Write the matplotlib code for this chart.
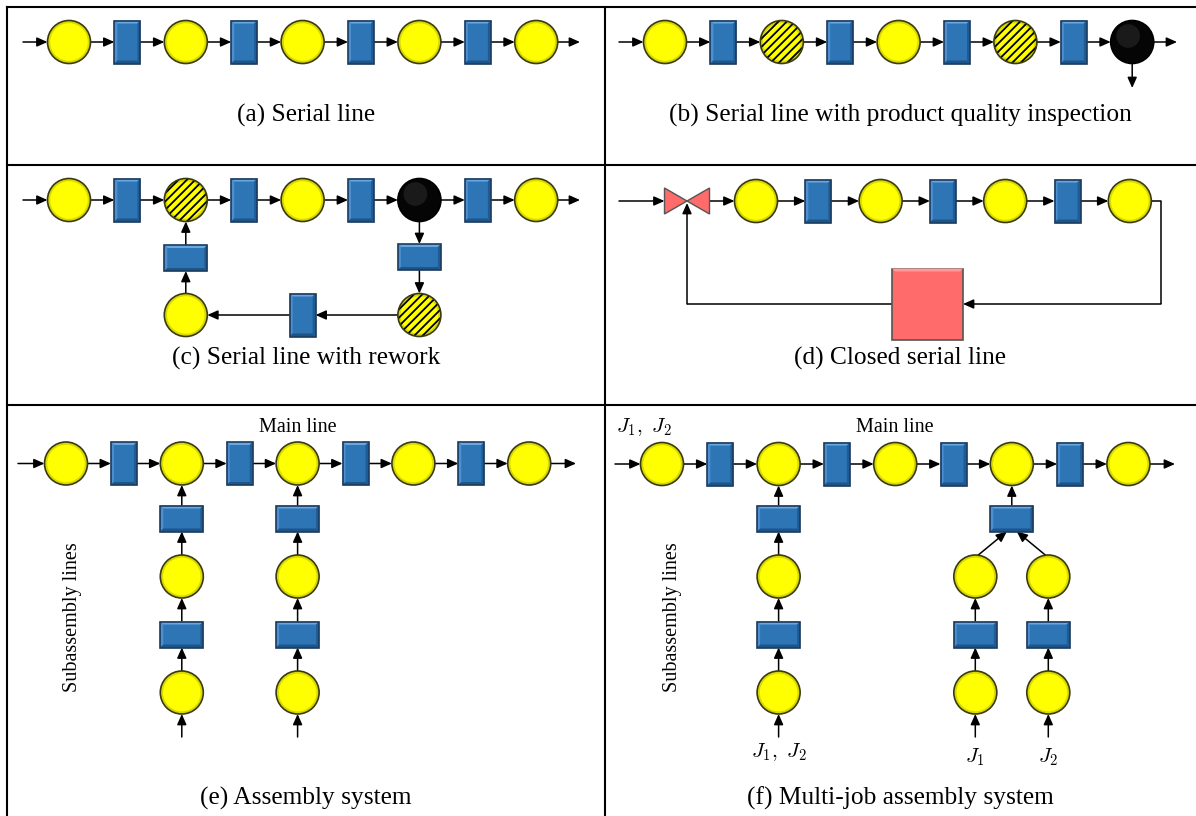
import matplotlib
matplotlib.use("Agg")
import matplotlib.pyplot as plt
from matplotlib.patches import Circle, Rectangle, Polygon

plt.rcParams["font.family"] = ["Liberation Serif", "DejaVu Serif"]
plt.rcParams["mathtext.fontset"] = "cm"
plt.rcParams["hatch.linewidth"] = 1.3

# ---- node sequences (M machine, Q quality machine, I inspection, B buffer, S splitter) ----
ROW_A = ["M", "B", "M", "B", "M", "B", "M", "B", "M"]
ROW_B = ["M", "B", "Q", "B", "M", "B", "Q", "B", "I"]
ROW_C = ["M", "B", "Q", "B", "M", "B", "I", "B", "M"]
ROW_D = ["S", "M", "B", "M", "B", "M", "B", "M"]
ROW_E = ["M", "B", "M", "B", "M", "B", "M", "B", "M"]
ROW_F = ["M", "B", "M", "B", "M", "B", "M", "B", "M"]

REWORK_C = ["B", "Q", "B", "M", "B"]          # from inspection back to station 3
SUB_LINE = ["B", "M", "B", "M"]              # one subassembly line, top to bottom
SUB_E = [2, 4]                               # main-line stations fed in (e)
SUB_F_SINGLE = 2                             # (f) single feeder
SUB_F_MERGE = 6                              # (f) merged feeder
MERGE_LINE = ["M", "B", "M"]
MERGE_LABELS = ["$J_1$", "$J_2$"]

CAPTIONS = ["(a) Serial line", "(b) Serial line with product quality inspection",
            "(c) Serial line with rework", "(d) Closed serial line",
            "(e) Assembly system", "(f) Multi-job assembly system"]

YEL = "#FFFF00"
YEL_EDGE = "#3a3a10"
BLUE = "#2E75B6"
BLUE_EDGE = "#1B3A5C"
RED = "#FF6B6B"
R = 21.5

fig = plt.figure(figsize=(11.96, 8.16), dpi=100)
ax = fig.add_axes([0, 0, 1, 1])
ax.set_xlim(0, 1196)
ax.set_ylim(816, 0)
ax.axis("off")


def arrow(p, q):
    ax.annotate("", xy=q, xytext=p,
                arrowprops=dict(arrowstyle="-|>,head_length=0.45,head_width=0.2", lw=1.1,
                                color="black", shrinkA=0, shrinkB=0, mutation_scale=14), zorder=2)


def line(xs, ys):
    ax.plot(xs, ys, color="black", lw=1.1, zorder=2, solid_capstyle="butt")


def machine(x, y, kind):
    if kind == "I":
        ax.add_patch(Circle((x, y), R, fc="#050505", ec="black", lw=1.2, zorder=3))
        ax.add_patch(Circle((x - 4, y - 6), R * 0.55, fc="#1a1a1a", ec="none", zorder=3))
        return
    ax.add_patch(Circle((x, y), R, fc=YEL, ec="none", zorder=3))
    ax.add_patch(Circle((x, y), R - 1.6, fc="none", ec="#d9d900", lw=1.6, zorder=3))
    if kind == "Q":
        ax.add_patch(Circle((x, y), R, fc="none", ec="black", lw=0, hatch="////", zorder=3))
    ax.add_patch(Circle((x, y), R, fc="none", ec=YEL_EDGE, lw=1.2, zorder=4))


def buffer(x, y, vertical=True):
    w, h = (26, 43) if vertical else (43, 26)
    l, t, rr, b = x - w / 2, y - h / 2, x + w / 2, y + h / 2
    ax.add_patch(Rectangle((l, t), w, h, fc=BLUE, ec="none", zorder=3))
    k = 3
    ax.add_patch(Polygon([(l, t), (rr, t), (rr - k, t + k), (l + k, t + k)], fc="#6aa8e0", ec="none", zorder=3))
    ax.add_patch(Polygon([(l, t), (l + k, t + k), (l + k, b - k), (l, b)], fc="#4d8fcf", ec="none", zorder=3))
    ax.add_patch(Polygon([(rr, t), (rr, b), (rr - k, b - k), (rr - k, t + k)], fc="#1f5c96", ec="none", zorder=3))
    ax.add_patch(Polygon([(l, b), (rr, b), (rr - k, b - k), (l + k, b - k)], fc="#1d5589", ec="none", zorder=3))
    ax.add_patch(Rectangle((l, t), w, h, fc="none", ec=BLUE_EDGE, lw=1.2, zorder=4))


def splitter(x, y):
    ax.add_patch(Polygon([(x - 22.5, y - 13), (x - 22.5, y + 13), (x, y)], fc=RED, ec="#555555", lw=1.0, zorder=3))
    ax.add_patch(Polygon([(x + 22.5, y - 13), (x + 22.5, y + 13), (x, y)], fc=RED, ec="#555555", lw=1.0, zorder=3))


def half_w(kind, vertical=True):
    if kind == "B":
        return 13 if vertical else 21.5
    if kind == "S":
        return 22.5
    return R


def half_h(kind, vertical=True):
    if kind == "B":
        return 21.5 if vertical else 13
    return R


def node(x, y, kind, vertical=True):
    if kind == "B":
        buffer(x, y, vertical)
    elif kind == "S":
        splitter(x, y)
    else:
        machine(x, y, kind)


def row(seq, xs, y, x_in, x_out):
    for x, k in zip(xs, seq):
        node(x, y, k)
    arrow((x_in, y), (xs[0] - half_w(seq[0]), y))
    for i in range(len(seq) - 1):
        arrow((xs[i] + half_w(seq[i]), y), (xs[i + 1] - half_w(seq[i + 1]), y))
    if x_out is not None:
        arrow((xs[-1] + half_w(seq[-1]), y), (x_out, y))


def column(seq, x, ys, top_y=None, bottom_in=None):
    # chain feeding upward; top_y is the bottom edge of the node it feeds
    prev = top_y
    for k, y in zip(seq, ys):
        node(x, y, k, vertical=False)
        if prev is not None:
            arrow((x, y - half_h(k, False)), (x, prev))
        prev = y + half_h(k, False)
    if bottom_in is not None:
        arrow((x, bottom_in), (x, prev))


def xs_of(seq, x0, pitch):
    return [x0 + i * pitch for i in range(len(seq))]


# ---- table grid ----
for xs, ys in [([7, 1196], [7, 7]), ([7, 1196], [165, 165]), ([7, 1196], [405, 405]),
               ([7, 7], [7, 816]), ([605, 605], [7, 816])]:
    ax.plot(xs, ys, color="black", lw=1.5, zorder=1)

# ---- (a) ----
xa = xs_of(ROW_A, 69, 58.4)
row(ROW_A, xa, 42, 23, 580)

# ---- (b) ----
xb = xs_of(ROW_B, 665, 58.4)
row(ROW_B, xb, 42, 619, 1177)
arrow((xb[-1], 42 + R), (xb[-1], 88))

# ---- (c) ----
yc = 200
xc = xs_of(ROW_C, 69, 58.4)
row(ROW_C, xc, yc, 23, 580)
xi = xc[ROW_C.index("I")]
xq = xc[ROW_C.index("Q")]
y_low = 315
# down from inspection
buffer(xi, 257, vertical=False)
arrow((xi, yc + R), (xi, 257 - 13))
machine(xi, y_low, REWORK_C[1])
arrow((xi, 257 + 13), (xi, y_low - R))
# back along the bottom
xm = (xi + xq) / 2
buffer(xm, y_low, vertical=True)
arrow((xi - R, y_low), (xm + 13, y_low))
machine(xq, y_low, REWORK_C[3])
arrow((xm - 13, y_low), (xq + R, y_low))
# up into station
buffer(xq, 258, vertical=False)
arrow((xq, y_low - R), (xq, 258 + 13))
arrow((xq, 258 - 13), (xq, yc + R))

# ---- (d) ----
yd = 201
xd = [687] + xs_of(ROW_D[1:], 756, 62.3)
row(ROW_D, xd, yd, 619, None)
sq_x, sq_y, sq = 927.5, 304, 71
ax.add_patch(Rectangle((sq_x - sq / 2, sq_y - sq / 2), sq, sq, fc=RED, ec="#555555", lw=1.2, zorder=3))
ax.add_patch(Polygon([(sq_x - sq / 2, sq_y - sq / 2), (sq_x + sq / 2, sq_y - sq / 2),
                      (sq_x + sq / 2 - 3, sq_y - sq / 2 + 3), (sq_x - sq / 2 + 3, sq_y - sq / 2 + 3)],
                     fc="#ff9a9a", ec="none", zorder=3))
line([xd[-1] + R, 1161, 1161], [yd, yd, sq_y])
arrow((1161, sq_y), (sq_x + sq / 2, sq_y))
line([sq_x - sq / 2, xd[0]], [sq_y, sq_y])
arrow((xd[0], sq_y), (xd[0], yd + 2))

# ---- (e) ----
ye = 463.5
xe = xs_of(ROW_E, 66, 57.9)
row(ROW_E, xe, ye, 18, 576)
sub_ys = [ye + 55 + 58 * k for k in range(len(SUB_LINE))]
for idx in SUB_E:
    column(SUB_LINE, xe[idx], sub_ys, ye + R, bottom_in=737)
ax.text(xe[4], 428, "Main line", fontsize=14.5, ha="center", va="center")
ax.text(73, 617, "Subassembly lines", fontsize=14.5, ha="center", va="center", rotation=90)

# ---- (f) ----
yf = 464
xf = xs_of(ROW_F, 662, 58.3)
row(ROW_F, xf, yf, 615, 1175)
column(SUB_LINE, xf[SUB_F_SINGLE], sub_ys, yf + R, bottom_in=737)
xmg = xf[SUB_F_MERGE]
column(SUB_LINE[:1], xmg, sub_ys[:1], yf + R)
for j, dx in enumerate([-36.5, 36.5]):
    sgn = 1 if dx < 0 else -1
    column(MERGE_LINE, xmg + dx, sub_ys[1:], None, bottom_in=737)
    arrow((xmg + dx + 3 * sgn, sub_ys[1] - R), (xmg - 5 * sgn, sub_ys[0] + 13))
    ax.text(xmg + dx, 757, MERGE_LABELS[j], fontsize=15, ha="center", va="center")
ax.text(xf[SUB_F_SINGLE], 752, "$J_1,\\ J_2$", fontsize=15, ha="center", va="center")
ax.text(644, 427, "$J_1,\\ J_2$", fontsize=15, ha="center", va="center")
ax.text(xf[4], 427, "Main line", fontsize=14.5, ha="center", va="center")
ax.text(672, 617, "Subassembly lines", fontsize=14.5, ha="center", va="center", rotation=90)

# ---- captions ----
for (cx, cy), txt in zip([(306, 115), (900, 115), (306, 358), (900, 358), (306, 798), (900, 798)], CAPTIONS):
    ax.text(cx, cy, txt, fontsize=18.3, ha="center", va="center")

fig.savefig("out.png", dpi=100, facecolor="white")
